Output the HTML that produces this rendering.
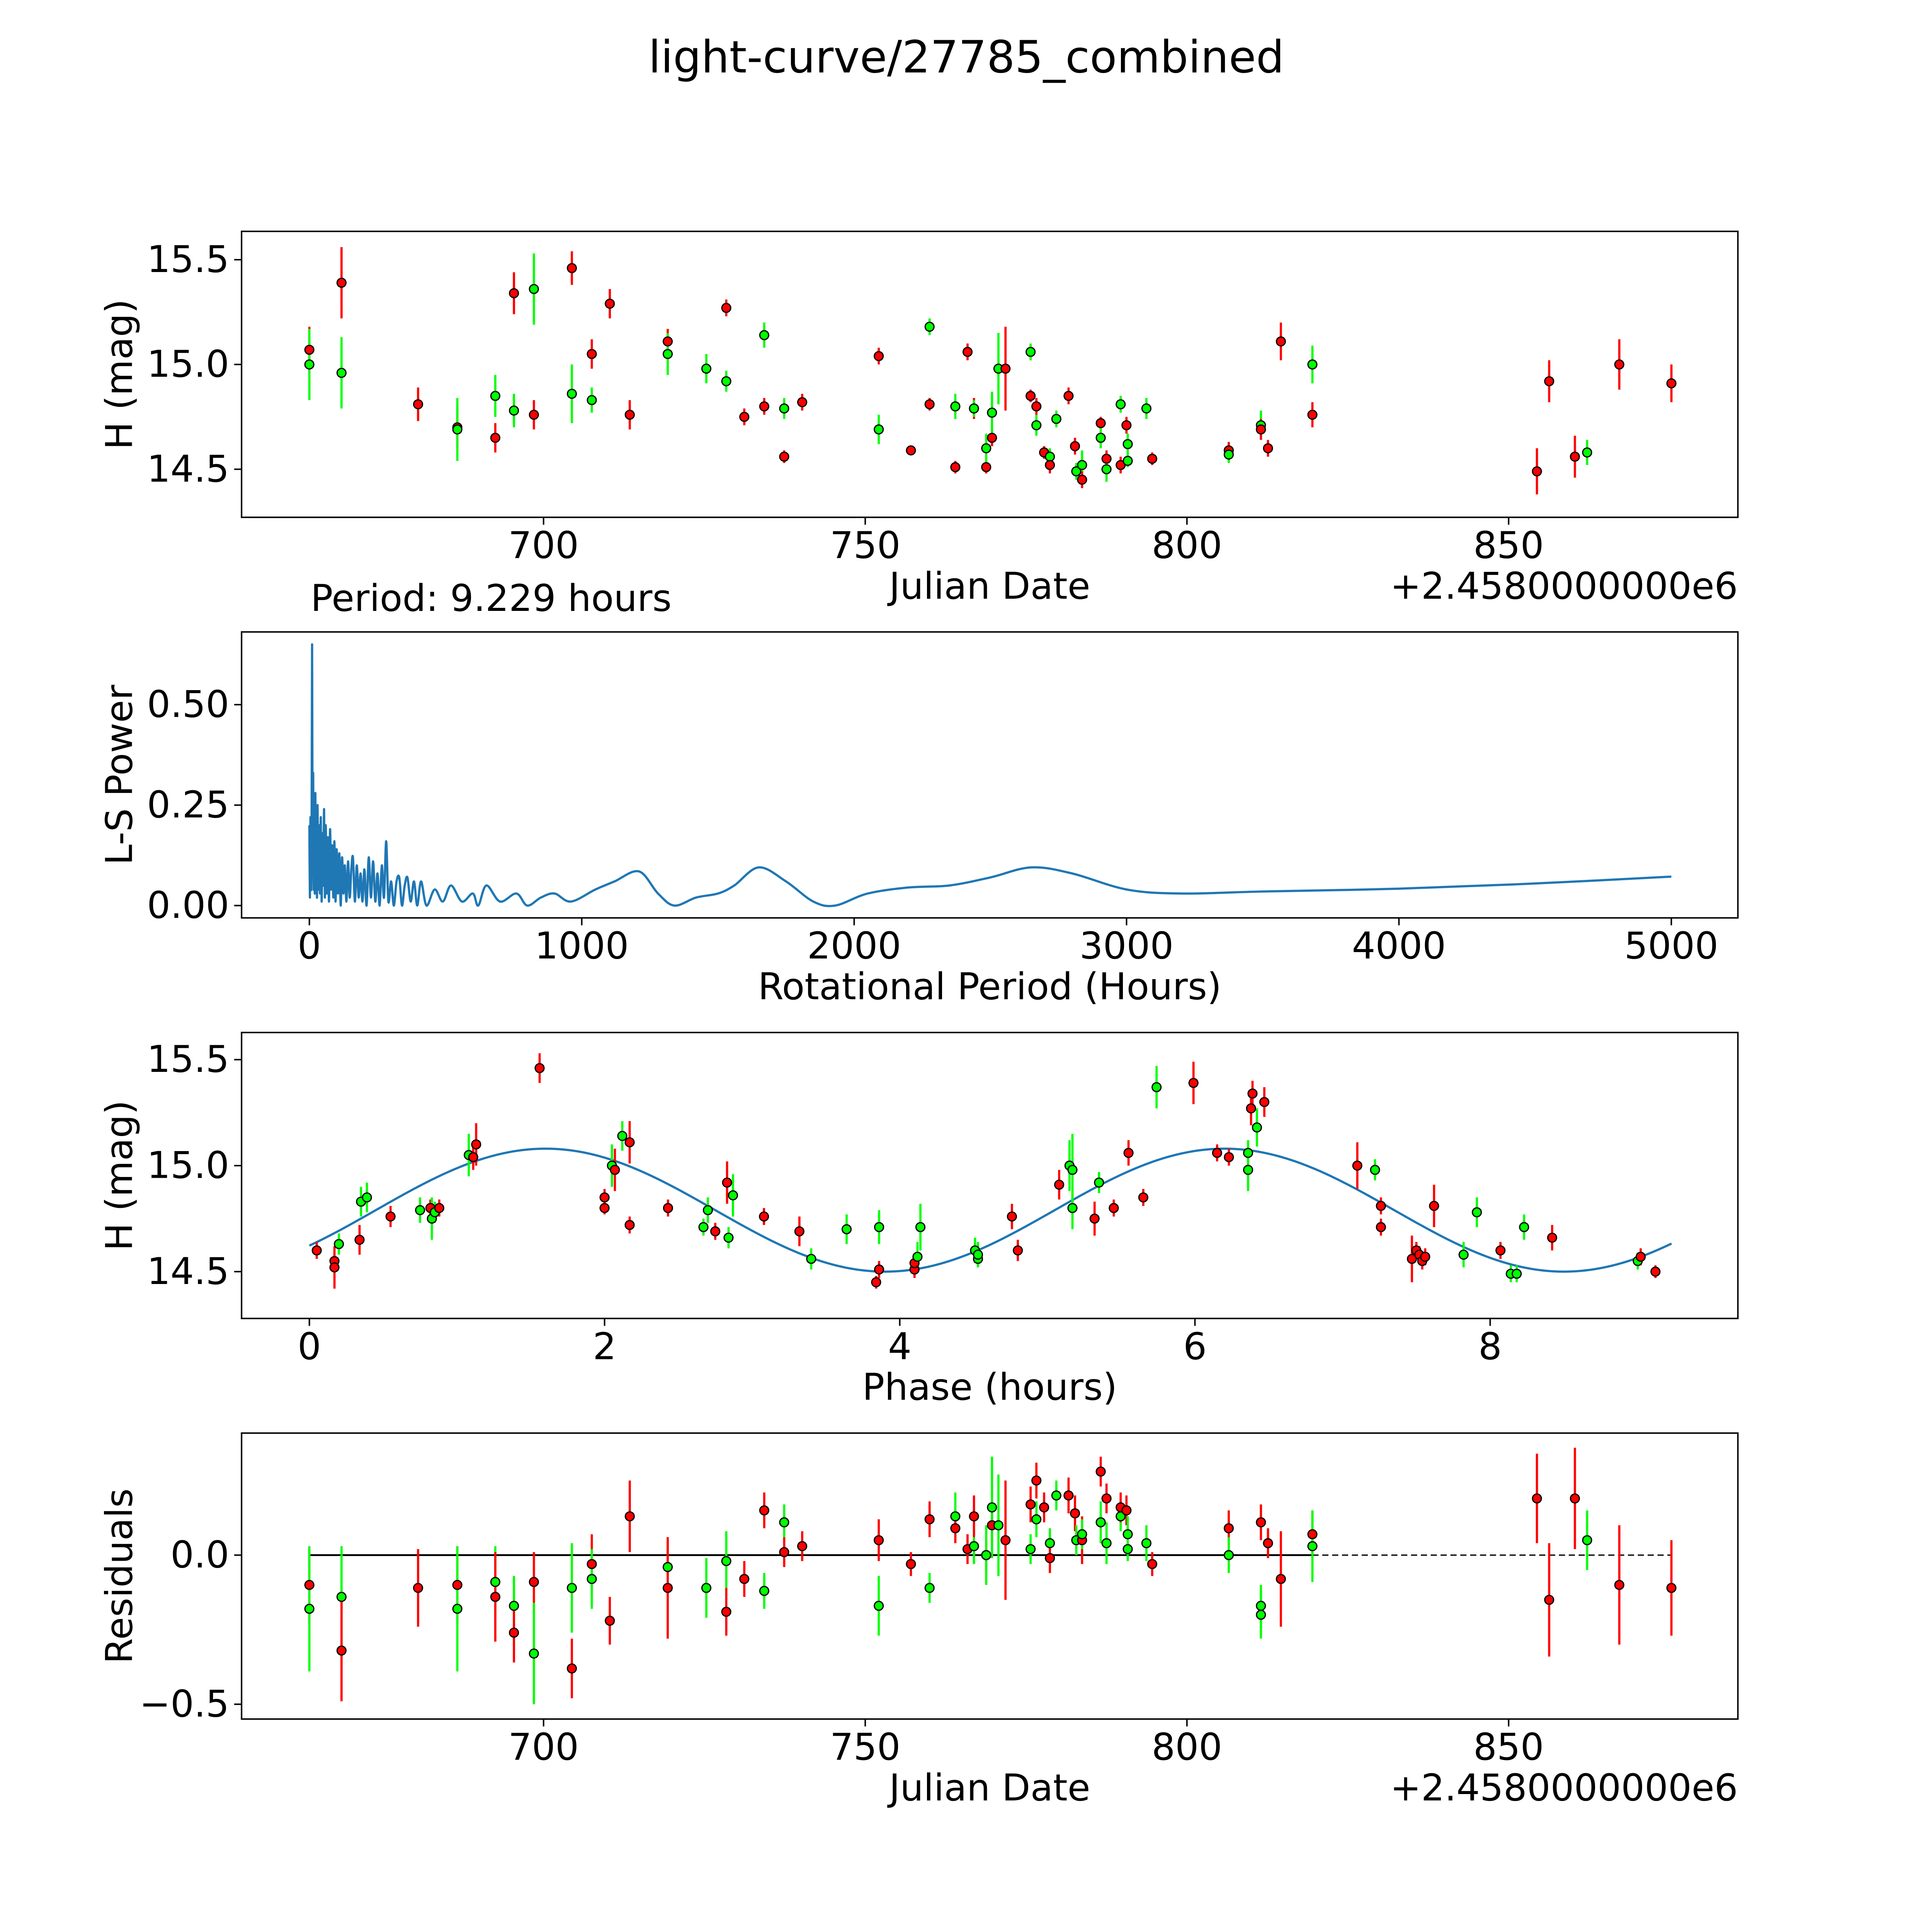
<!DOCTYPE html>
<html><head><meta charset="utf-8"><style>
html,body{margin:0;padding:0;background:#fff;overflow:hidden;width:100%;height:100%}
svg{display:block;width:100vw;height:100vh}
text{font-family:"DejaVu Sans","Liberation Sans",sans-serif;fill:#000}
</style></head><body>
<svg id="fig" viewBox="0 0 5400 5400" preserveAspectRatio="none" xmlns="http://www.w3.org/2000/svg">
<rect width="5400" height="5400" fill="#fff"/>
<g transform="matrix(3.445 0 0 3.445 0 -1)">
<text x="784" y="59" font-size="36" text-anchor="middle">light-curve/27785_combined</text>
<g id="g1"></g>
<g id="g2"></g>
<g id="g3"></g>
<g id="g4"></g>
</g>
</svg>
<script>
// ---- data: Julian date panel (JD offset from 2458000, H mag, error, filter) ----
const jd = [663.6,663.6,668.6,668.6,680.5,686.6,686.6,692.5,692.5,695.4,695.4,698.5,698.5,704.4,704.4,707.5,707.5,710.3,713.4,719.3,719.3,725.3,728.4,728.4,731.2,734.3,734.3,737.4,737.4,740.2,752.1,752.1,757.1,760.0,760.0,764.0,764.0,765.9,766.9,766.9,768.8,768.8,769.7,769.7,770.7,771.8,775.7,775.7,776.6,776.6,777.8,778.7,778.7,779.7,781.6,782.6,782.8,783.7,783.7,786.6,786.6,787.5,787.5,789.7,789.7,790.6,790.8,790.8,793.7,794.6,806.5,806.5,811.5,811.5,812.6,814.6,819.5,819.5,854.4,856.3,860.3,862.2,867.2,875.3];
const mag = [15.07,15.0,15.39,14.96,14.81,14.7,14.69,14.65,14.85,15.34,14.78,15.36,14.76,15.46,14.86,15.05,14.83,15.29,14.76,15.11,15.05,14.98,15.27,14.92,14.75,15.14,14.8,14.79,14.56,14.82,15.04,14.69,14.59,15.18,14.81,14.8,14.51,15.06,14.79,14.79,14.51,14.6,14.65,14.77,14.98,14.98,15.06,14.85,14.8,14.71,14.58,14.56,14.52,14.74,14.85,14.61,14.49,14.52,14.45,14.72,14.65,14.55,14.5,14.81,14.52,14.71,14.62,14.54,14.79,14.55,14.59,14.57,14.71,14.69,14.6,15.11,15.0,14.76,14.49,14.92,14.56,14.58,15.0,14.91];
const magErr = [0.11,0.17,0.17,0.17,0.08,0.1,0.15,0.07,0.1,0.1,0.08,0.17,0.07,0.08,0.14,0.07,0.06,0.07,0.07,0.06,0.1,0.07,0.04,0.05,0.04,0.06,0.04,0.05,0.03,0.04,0.04,0.07,0.02,0.04,0.03,0.06,0.03,0.04,0.05,0.04,0.03,0.07,0.04,0.1,0.17,0.2,0.04,0.03,0.04,0.05,0.03,0.04,0.04,0.04,0.04,0.04,0.04,0.07,0.04,0.03,0.05,0.04,0.06,0.04,0.04,0.04,0.05,0.03,0.05,0.03,0.04,0.04,0.07,0.05,0.04,0.09,0.09,0.06,0.11,0.1,0.1,0.06,0.12,0.09];
const band = "rgrgrrgrgr"+"ggrrgrgrrr"+"ggrgrgrgrr"+"rgrgrgrrrg"+"rgrggrgrrg"+"rgrgrrggrr"+"grggrrgggr"+"rggrrrgrrr"+"rgrr";
// ---- data: residuals panel ----
const resJd = [663.6,663.6,668.6,668.6,680.5,686.6,686.6,692.5,692.5,695.4,695.4,698.5,698.5,704.4,704.4,707.5,707.5,710.3,713.4,719.3,719.3,725.3,728.4,728.4,731.2,734.3,734.3,737.4,737.4,740.2,752.1,752.1,757.1,760.0,760.0,764.0,764.0,765.9,766.9,766.9,768.8,768.8,769.7,769.7,770.7,771.8,775.7,775.7,776.6,776.6,777.8,778.7,778.7,779.7,781.6,782.6,782.8,783.7,783.7,786.6,786.6,787.5,787.5,789.7,789.7,790.6,790.8,790.8,793.7,794.6,806.5,806.5,811.5,811.5,811.5,812.6,814.6,819.5,819.5,854.4,856.3,860.3,862.2,867.2,875.3];
const resVal = [-0.10,-0.18,-0.14,-0.32,-0.11,-0.10,-0.18,-0.09,-0.14,-0.17,-0.26,-0.09,-0.33,-0.11,-0.38,-0.03,-0.08,-0.22,0.13,-0.04,-0.11,-0.11,-0.02,-0.19,-0.08,0.15,-0.12,0.11,0.01,0.03,0.05,-0.17,-0.03,0.12,-0.11,0.13,0.09,0.02,0.03,0.13,0.0,0.0,0.1,0.16,0.1,0.05,0.17,0.02,0.25,0.12,0.16,0.04,-0.01,0.2,0.2,0.14,0.05,0.05,0.07,0.28,0.11,0.19,0.04,0.13,0.16,0.15,0.07,0.02,0.04,-0.03,0.09,0.0,-0.17,0.11,-0.2,0.04,-0.08,0.07,0.03,0.19,-0.15,0.19,0.05,-0.1,-0.11];
const resErr = [0.13,0.21,0.17,0.17,0.13,0.13,0.21,0.12,0.15,0.1,0.1,0.1,0.17,0.15,0.1,0.1,0.1,0.08,0.12,0.1,0.17,0.1,0.1,0.08,0.06,0.06,0.06,0.06,0.05,0.05,0.07,0.1,0.04,0.06,0.05,0.08,0.05,0.05,0.06,0.07,0.06,0.1,0.08,0.17,0.17,0.2,0.06,0.05,0.06,0.06,0.05,0.05,0.05,0.05,0.06,0.06,0.05,0.08,0.05,0.05,0.07,0.05,0.07,0.05,0.05,0.05,0.06,0.04,0.06,0.04,0.06,0.06,0.07,0.06,0.08,0.05,0.16,0.08,0.12,0.15,0.19,0.17,0.1,0.2,0.16];
const resBand = "rggrrrggrg"+"rrggrrgrrg"+"rggrrrggrr"+"rgrrggrrgr"+"rgrggrrgrg"+"rgrgrrgrgr"+"grggrrgggr"+"rggrgrrrgr"+"rrgrr";
// ---- data: periodogram ----
const perHours = [0,2,4,6,8,10,12,14,16,18,20,22,24,26,28,30,33,36,39,42,45,48,51,54,57,60,64,68,72,76,80,84,88,92,96,100,105,110,115,120,125,130,136,142,148,154,160,167,174,181,188,195,202,210,218,226,234,242,250,258,266,274,282,290,300,310,320,330,340,350,360,372,384,396,410,430,460,490,520,560,600,620,650,700,760,800,850,900,960,1050,1120,1210,1280,1340,1420,1500,1560,1650,1750,1850,1930,2050,2200,2350,2500,2650,2800,3000,3200,3500,4000,4500,5000];
const lsPower = [0.2,0.02,0.22,0.05,0.12,0.65,0.08,0.33,0.04,0.22,0.03,0.28,0.05,0.18,0.02,0.25,0.04,0.2,0.03,0.22,0.01,0.18,0.05,0.24,0.02,0.2,0.03,0.17,0.01,0.19,0.04,0.15,0.02,0.16,0.01,0.14,0.03,0.13,0.0,0.12,0.03,0.1,0.01,0.11,0.02,0.09,0.12,0.01,0.1,0.02,0.08,0.01,0.09,0.0,0.12,0.02,0.11,0.01,0.08,0.0,0.1,0.02,0.16,0.01,0.06,0.0,0.06,0.07,0.0,0.05,0.07,0.01,0.06,0.0,0.06,0.0,0.04,0.01,0.05,0.01,0.03,0.0,0.05,0.01,0.03,0.0,0.02,0.03,0.01,0.04,0.06,0.085,0.03,0.0,0.02,0.03,0.05,0.095,0.06,0.01,0.0,0.03,0.045,0.05,0.07,0.095,0.08,0.04,0.03,0.035,0.042,0.055,0.072];
// ---- data: phase panel ----
const phase = [0.05,0.17,0.17,0.2,0.34,0.35,0.39,0.55,0.75,0.82,0.83,0.85,0.88,1.08,1.11,1.13,1.56,2.0,2.0,2.05,2.07,2.12,2.17,2.17,2.43,2.67,2.7,2.75,2.83,2.84,2.87,3.08,3.32,3.4,3.64,3.86,3.86,3.84,4.1,4.1,4.12,4.14,4.51,4.53,4.53,4.76,4.8,5.08,5.15,5.17,5.17,5.32,5.35,5.45,5.55,5.65,5.74,5.99,6.15,6.23,6.36,6.36,6.38,6.39,6.42,6.47,7.1,7.22,7.26,7.26,7.47,7.5,7.52,7.54,7.56,7.62,7.82,7.91,8.07,8.14,8.18,8.23,8.42,9.0,9.02,9.12];
const phaseMag = [14.6,14.55,14.52,14.63,14.65,14.83,14.85,14.76,14.79,14.8,14.75,14.78,14.8,15.05,15.04,15.1,15.46,14.85,14.8,15.0,14.98,15.14,14.72,15.11,14.8,14.71,14.79,14.69,14.92,14.66,14.86,14.76,14.69,14.56,14.7,14.71,14.51,14.45,14.51,14.54,14.57,14.71,14.6,14.56,14.58,14.76,14.6,14.91,15.0,14.98,14.8,14.75,14.92,14.8,15.06,14.85,15.37,15.39,15.06,15.04,15.06,14.98,15.27,15.34,15.18,15.3,15.0,14.98,14.81,14.71,14.56,14.6,14.58,14.55,14.57,14.81,14.58,14.78,14.6,14.49,14.49,14.71,14.66,14.55,14.57,14.5];
const phaseErr = [0.04,0.04,0.1,0.05,0.07,0.07,0.07,0.05,0.06,0.04,0.1,0.05,0.04,0.1,0.06,0.1,0.07,0.04,0.03,0.1,0.1,0.07,0.04,0.1,0.04,0.04,0.06,0.04,0.1,0.05,0.1,0.04,0.07,0.05,0.07,0.08,0.04,0.03,0.04,0.03,0.07,0.11,0.06,0.04,0.06,0.06,0.05,0.07,0.12,0.17,0.1,0.08,0.05,0.04,0.06,0.04,0.1,0.1,0.04,0.04,0.06,0.1,0.08,0.06,0.09,0.07,0.11,0.05,0.04,0.04,0.11,0.04,0.04,0.04,0.04,0.1,0.06,0.07,0.04,0.04,0.04,0.06,0.06,0.04,0.04,0.03];
const phaseBand = "rrrgrggrgr"+"ggrgrrrrrg"+"rgrrrggrrg"+"grrgggrrrr"+"gggggrrrgg"+"grgrrrgrrr"+"ggrrgrrgrr"+"rrrrrrggrg"+"ggrgrr";
const modelParams = [14.79, 0.29, 1.6, 4.6];
const phaseMax = 9.229;
// ---- ticks ----
const jdTicks = [700,750,800,850];
const magTicks = [14.5,15.0,15.5];
const perTicks = [0,1000,2000,3000,4000,5000];
const powTicks = [0,0.25,0.5];
const phaseTicks = [0,2,4,6,8];
const resTicks = [-0.5,0.0];

const NS="http://www.w3.org/2000/svg";
function mk(parent,tag,attrs){const e=document.createElementNS(NS,tag);for(const k in attrs)e.setAttribute(k,attrs[k]);parent.appendChild(e);return e;}
function lin(d0,d1,r0,r1){return v=>r0+(v-d0)*(r1-r0)/(d1-d0);}
const COL={r:"#ff0000",g:"#00ff00"};
const FS=30;

function frame(g,top,xs,ys,xt,yt,xfmt,yfmt,xlabel,ylabel){
  const L=196,B=top+232;
  xt.forEach(v=>{const x=xs(v);
    const t=mk(g,"line",{x1:x,x2:x,y1:B,y2:B+6,stroke:"#000","stroke-width":1.2});
    
    const tx=mk(g,"text",{x:x,y:B+33,"font-size":FS,"text-anchor":"middle"});tx.textContent=xfmt(v);
    });
  yt.forEach(v=>{const y=ys(v);
    const t=mk(g,"line",{x1:L-6,x2:L,y1:y,y2:y,stroke:"#000","stroke-width":1.2});
    
    const tx=mk(g,"text",{x:L-10,y:y+10,"font-size":FS,"text-anchor":"end"});tx.textContent=yfmt(v);
    });
  const xl=mk(g,"text",{x:803,y:B+66,"font-size":FS,"text-anchor":"middle"});xl.textContent=xlabel;
  
  const yl=mk(g,"text",{x:0,y:0,"font-size":FS,"text-anchor":"middle",transform:`translate(107,${top+116}) rotate(-90)`});yl.textContent=ylabel;
  
}
function border(g,top){const r=mk(g,"rect",{x:196,y:top,width:1214,height:232,fill:"none",stroke:"#000","stroke-width":1.2});
  }
function pts(g,xs,ys,X,Y,E,Bd){
  X.forEach((v,i)=>{const x=xs(v),c=COL[Bd[i]];
    const l=mk(g,"line",{x1:x,x2:x,y1:ys(Y[i]-E[i]),y2:ys(Y[i]+E[i]),stroke:c,"stroke-width":1.8});
    });
  X.forEach((v,i)=>{const c=mk(g,"circle",{cx:xs(v),cy:ys(Y[i]),r:3.6,fill:COL[Bd[i]],stroke:"#000","stroke-width":1});
    });
}
function smoothPath(P){
  let d="M"+P[0][0].toFixed(2)+","+P[0][1].toFixed(2);
  for(let i=0;i<P.length-1;i++){
    const p0=P[Math.max(0,i-1)],p1=P[i],p2=P[i+1],p3=P[Math.min(P.length-1,i+2)];
    const c1=[p1[0]+(p2[0]-p0[0])/6,p1[1]+(p2[1]-p0[1])/6];
    const c2=[p2[0]-(p3[0]-p1[0])/6,p2[1]-(p3[1]-p1[1])/6];
    d+="C"+c1.map(v=>v.toFixed(2)).join(",")+" "+c2.map(v=>v.toFixed(2)).join(",")+" "+p2[0].toFixed(2)+","+p2[1].toFixed(2);
  }
  return d;
}
const f1=v=>v.toFixed(1), f0=v=>String(v), f2=v=>v.toFixed(2);
const minus=s=>s.replace('-','\u2212');

// panel 1
{const g=document.getElementById('g1'),top=188;
 const xs=lin(700,850,441,1224), ys=lin(15,14.5,296,381);
 frame(g,top,xs,ys,jdTicks,magTicks,f0,f1,"Julian Date","H (mag)");
 pts(g,xs,ys,jd,mag,magErr,band);border(g,top);
 const o=mk(g,"text",{x:1410,y:486,"font-size":FS,"text-anchor":"end"});o.textContent="+2.4580000000e6";
 }
// panel 2
{const g=document.getElementById('g2'),top=513;
 const xs=lin(0,5000,251,1356), ys=lin(0,0.5,735,572);
 frame(g,top,xs,ys,perTicks,powTicks,f0,f2,"Rotational Period (Hours)","L-S Power");
 const P=perHours.map((p,i)=>[xs(p),ys(lsPower[i])]);
 const p=mk(g,"path",{d:smoothPath(P),fill:"none",stroke:"#1f77b4","stroke-width":1.8});
 
 border(g,top);
 const t=mk(g,"text",{x:252,y:496,"font-size":FS});t.textContent="Period: 9.229 hours";
 }
// panel 3
{const g=document.getElementById('g3'),top=838;
 const xs=lin(0,8,251,1209), ys=lin(15,14.5,946,1032);
 frame(g,top,xs,ys,phaseTicks,magTicks,f0,f1,"Phase (hours)","H (mag)");
 const [m,a,pk,per]=modelParams;let d="";
 for(let i=0;i<=300;i++){const x=phaseMax*i/300;const y=m+a*Math.cos(2*Math.PI*(x-pk)/per);d+=(i?"L":"M")+xs(x).toFixed(2)+","+ys(y).toFixed(2);}
 const p=mk(g,"path",{d:d,fill:"none",stroke:"#1f77b4","stroke-width":1.8});
 
 pts(g,xs,ys,phase,phaseMag,phaseErr,phaseBand);border(g,top);}
// panel 4
{const g=document.getElementById('g4'),top=1163;
 const xs=lin(700,850,441,1224), ys=lin(0,-0.5,1262,1383);
 frame(g,top,xs,ys,jdTicks,resTicks,f0,v=>minus(v.toFixed(1)),"Julian Date","Residuals");
 const z1=mk(g,"line",{x1:xs(resJd[0]),x2:xs(819.5),y1:ys(0),y2:ys(0),stroke:"#000","stroke-width":1.5});
 
 const z2=mk(g,"line",{x1:xs(819.5),x2:xs(resJd[resJd.length-1]),y1:ys(0),y2:ys(0),stroke:"#000","stroke-width":1,"stroke-dasharray":"5,3"});
 
 pts(g,xs,ys,resJd,resVal,resErr,resBand);border(g,top);
 const o=mk(g,"text",{x:1410,y:1461,"font-size":FS,"text-anchor":"end"});o.textContent="+2.4580000000e6";
 }
</script>
</body></html>
